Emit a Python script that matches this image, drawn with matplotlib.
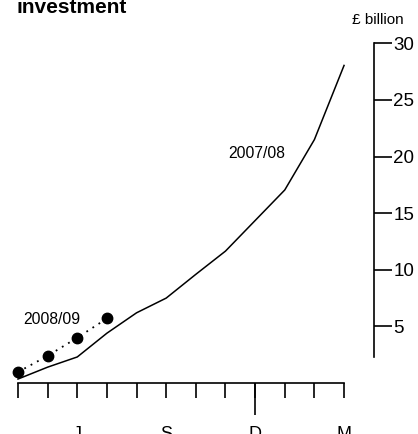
import matplotlib
matplotlib.use("Agg")
import matplotlib.pyplot as plt

# cumulative investment, £ billion, by month (April .. March)
months = ["A", "M", "J", "J", "A", "S", "O", "N", "D", "J", "F", "M"]
month_labels = ["", "", "J", "", "", "S", "", "", "D", "", "", "M"]
values_2007 = [0.35, 1.4, 2.3, 4.4, 6.2, 7.5, 9.6, 11.65, 14.35, 17.05, 21.5, 28.05]
values_2008 = [0.97, 2.4, 4.0, 5.7]
y_ticks = [5, 10, 15, 20, 25, 30]

plt.rcParams["font.family"] = ["Liberation Sans", "DejaVu Sans"]

fig = plt.figure(figsize=(4.18, 4.34), dpi=100)
ax = fig.add_axes([0, 0, 1, 1])
ax.set_facecolor("none")

x_all = list(range(len(months)))
x_2008 = list(range(len(values_2008)))

ax.plot(x_all, values_2007, color="black", lw=1.1)
ax.plot(x_2008, values_2008, color="black", lw=1.3, ls=(0, (1, 3)),
        marker="o", ms=7.5)

ax.text(8.06, 20.3, "2007/08", fontsize=11.3, ha="center", va="center")
ax.text(1.15, 5.6, "2008/09", fontsize=11.3, ha="center", va="center")

# pixel-matched view
ax.set_xlim(-0.607, 13.495)
ax.set_ylim(-4.505, 33.83)

for side in ["top", "left"]:
    ax.spines[side].set_visible(False)

ax.spines["bottom"].set_position(("data", 0))
ax.spines["bottom"].set_bounds(0, 11)
ax.spines["bottom"].set_linewidth(1.2)
ax.spines["right"].set_position(("data", 12.0))
ax.spines["right"].set_bounds(2.26, 30)
ax.spines["right"].set_linewidth(1.2)

ax.set_xticks(x_all)
ax.set_xticklabels(month_labels)
ax.xaxis.remove_overlapping_locs = False
ax.set_xticks([8], minor=True)
ax.tick_params(axis="x", which="major", direction="out", length=11, width=1.2,
               pad=20, labelsize=13)
ax.tick_params(axis="x", which="minor", direction="out", length=23, width=1.2)

ax.yaxis.tick_right()
ax.set_yticks(y_ticks)
ax.tick_params(axis="y", direction="out", length=13, width=1.2, pad=1,
               labelsize=13.5)

fig.text(378 / 418, 1 - 20 / 434, "£ billion", fontsize=11, ha="center",
         va="center")
fig.text(17 / 418, 1 - 13 / 434, "investment", fontsize=15, fontweight="bold",
         ha="left", va="baseline")

fig.savefig("out.png", dpi=100)
